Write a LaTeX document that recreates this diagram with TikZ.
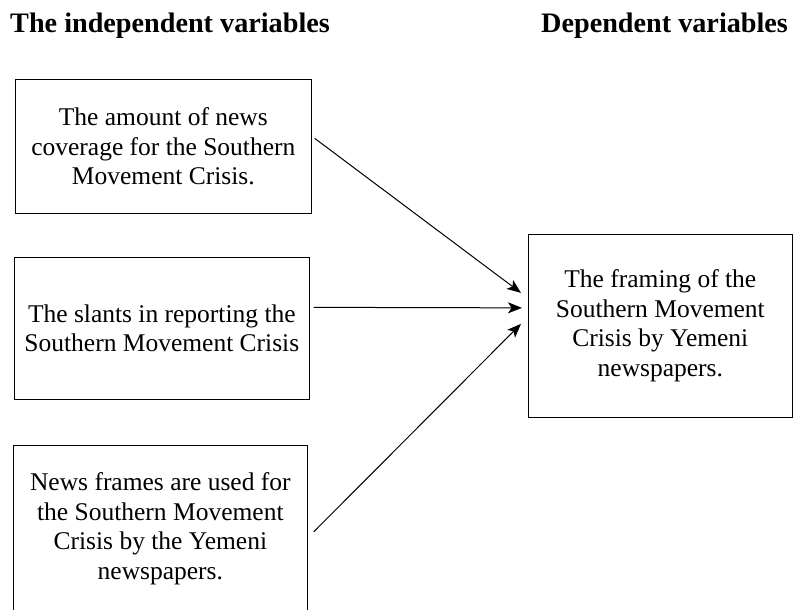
\documentclass[tikz,border=0pt]{standalone}
\usepackage{fontspec}
\setmainfont{Liberation Serif}
\usetikzlibrary{arrows.meta}
\begin{document}
\begin{tikzpicture}[x=1pt,y=-1pt,
  varbox/.style={draw,line width=0.7pt,align=center,inner sep=0pt,font=\fontsize{25.5}{29.5}\selectfont},
  head/.style={font=\fontsize{28.2}{30}\selectfont\bfseries,anchor=base west,inner sep=0pt},
  link/.style={line width=1pt,-{Stealth[length=14pt,width=11pt,inset=3.5pt]}}]
\useasboundingbox (0,0) rectangle (793,610);
\clip (0,0) rectangle (793,610);
\node[head] (h1) at (10,33) {The independent variables};
\node[head] (h2) at (541,33) {Dependent variables};
\node[varbox,minimum width=296pt,minimum height=134pt,anchor=north west] (b1) at (15,79)
  {The amount of news\\coverage for the Southern\\Movement Crisis.};
\node[varbox,minimum width=295pt,minimum height=142pt,anchor=north west] (b2) at (14,257)
  {The slants in reporting the\\Southern Movement Crisis};
\node[varbox,minimum width=294pt,minimum height=167pt,anchor=north west] (b3) at (13,445)
  {News frames are used for\\the Southern Movement\\Crisis by the Yemeni\\newspapers.};
\node[varbox,minimum width=264pt,minimum height=183pt,anchor=north west] (b4) at (528,234)
  {The framing of the\\Southern Movement\\Crisis by Yemeni\\newspapers.};
\draw[link] ([xshift=3pt,yshift=8pt]b1.east) -- ([xshift=-7pt,yshift=33pt]b4.west);
\draw[link] ([xshift=4pt,yshift=21pt]b2.east) -- ([xshift=-6pt,yshift=18pt]b4.west);
\draw[link] ([xshift=6pt,yshift=-3pt]b3.east) -- ([xshift=-7pt,yshift=2pt]b4.west);
\end{tikzpicture}
\end{document}
